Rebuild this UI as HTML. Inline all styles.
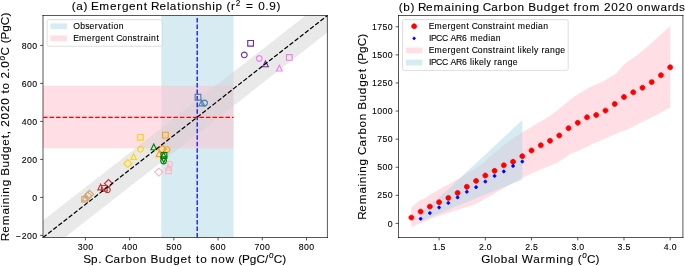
<!DOCTYPE html>
<html><head><meta charset="utf-8"><title>Emergent constraint on remaining carbon budget</title>
<style>
html,body{margin:0;padding:0;background:#fff;width:685px;height:266px;overflow:hidden;}
svg{display:block;will-change:transform;}
svg text{font-family:"Liberation Sans", sans-serif;fill:#000;stroke:#000;stroke-width:0.1px;stroke-linejoin:round;}
</style></head><body>
<svg width="685" height="266" viewBox="0 0 685 266" version="1.1">
<defs>
<style type="text/css">*{stroke-linejoin: round; stroke-linecap: butt}</style>
</defs>
<g id="figure_1">
<g id="patch_1">
<path d="M 0 266 
L 685 266 
L 685 0 
L 0 0 
z
" style="fill: #ffffff"/>
</g>
<g id="axes_1">
<g id="patch_2">
<path d="M 43 237.5 
L 327.4 237.5 
L 327.4 15.5 
L 43 15.5 
z
" style="fill: #ffffff"/>
</g>
<g id="patch_3">
<path d="M 161.323134 237.5 
L 233.528545 237.5 
L 233.528545 15.5 
L 161.323134 15.5 
z
" clip-path="url(#p31837b4e38)" style="fill: #add8e6; opacity: 0.5"/>
</g>
<g id="FillBetweenPolyCollection_1">
<defs>
<path id="m4d04b2fc5f" d="M 43 -180.13 
L 43 -117.81 
L 233.528545 -117.81 
L 233.528545 -180.13 
L 233.528545 -180.13 
L 43 -180.13 
z
"/>
</defs>
<g clip-path="url(#p31837b4e38)">
<use href="#m4d04b2fc5f" x="0" y="266" style="fill: #ffc0cb; fill-opacity: 0.5"/>
</g>
</g>
<g id="FillBetweenPolyCollection_2">
<path d="M -1.216418 255.104925 
L -1.216418 288.924925 
L 371.616418 -2.104925 
L 371.616418 -35.924925 
L 371.616418 -35.924925 
L -1.216418 255.104925 
z
" clip-path="url(#p31837b4e38)" style="fill: #d3d3d3; fill-opacity: 0.5"/>
</g>
<g id="matplotlib.axis_1">
<g id="xtick_1">
<g id="line2d_1">
<defs>
<path id="m1124e9da6d" d="M 0 0 
L 0 2.8805 
" style="stroke: #000000; stroke-width: 0.6584"/>
</defs>
<g>
<use href="#m1124e9da6d" x="85.403545" y="237.5" style="stroke: #000000; stroke-width: 0.6584"/>
</g>
</g>
<g id="text_1">
<text style="font-size: 8.748px" x="77.72 82.97 88.22" y="249.514514">300</text>
</g>
</g>
<g id="xtick_2">
<g id="line2d_2">
<g>
<use href="#m1124e9da6d" x="129.619963" y="237.5" style="stroke: #000000; stroke-width: 0.6584"/>
</g>
</g>
<g id="text_2">
<text style="font-size: 8.748px" x="121.94 127.19 132.44" y="249.514514">400</text>
</g>
</g>
<g id="xtick_3">
<g id="line2d_3">
<g>
<use href="#m1124e9da6d" x="173.836381" y="237.5" style="stroke: #000000; stroke-width: 0.6584"/>
</g>
</g>
<g id="text_3">
<text style="font-size: 8.748px" x="166.15 171.40 176.65" y="249.514514">500</text>
</g>
</g>
<g id="xtick_4">
<g id="line2d_4">
<g>
<use href="#m1124e9da6d" x="218.052799" y="237.5" style="stroke: #000000; stroke-width: 0.6584"/>
</g>
</g>
<g id="text_4">
<text style="font-size: 8.748px" x="210.37 215.62 220.87" y="249.514514">600</text>
</g>
</g>
<g id="xtick_5">
<g id="line2d_5">
<g>
<use href="#m1124e9da6d" x="262.269216" y="237.5" style="stroke: #000000; stroke-width: 0.6584"/>
</g>
</g>
<g id="text_5">
<text style="font-size: 8.748px" x="254.59 259.84 265.09" y="249.514514">700</text>
</g>
</g>
<g id="xtick_6">
<g id="line2d_6">
<g>
<use href="#m1124e9da6d" x="306.485634" y="237.5" style="stroke: #000000; stroke-width: 0.6584"/>
</g>
</g>
<g id="text_6">
<text style="font-size: 8.748px" x="298.80 304.05 309.30" y="249.514514">800</text>
</g>
</g>
<g id="text_7">
<g transform="translate(83.40313 263.505257)">
<text>
<tspan x="-0.27" y="-0.703125" style="font-size: 11.752px">S</tspan>
<tspan x="7.68" y="-0.703125" style="font-size: 11.752px">p</tspan>
<tspan x="14.79" y="-0.703125" style="font-size: 11.752px">.</tspan>
<tspan x="18.45" y="-0.703125" style="font-size: 11.752px"> </tspan>
<tspan x="21.68" y="-0.703125" style="font-size: 11.752px">C</tspan>
<tspan x="30.20" y="-0.703125" style="font-size: 11.752px">a</tspan>
<tspan x="37.39" y="-0.703125" style="font-size: 11.752px">r</tspan>
<tspan x="42.10" y="-0.703125" style="font-size: 11.752px">b</tspan>
<tspan x="49.27" y="-0.703125" style="font-size: 11.752px">o</tspan>
<tspan x="56.43" y="-0.703125" style="font-size: 11.752px">n</tspan>
<tspan x="63.54" y="-0.703125" style="font-size: 11.752px"> </tspan>
<tspan x="67.02" y="-0.703125" style="font-size: 11.752px">B</tspan>
<tspan x="75.26" y="-0.703125" style="font-size: 11.752px">u</tspan>
<tspan x="82.56" y="-0.703125" style="font-size: 11.752px">d</tspan>
<tspan x="89.85" y="-0.703125" style="font-size: 11.752px">g</tspan>
<tspan x="97.04" y="-0.703125" style="font-size: 11.752px">e</tspan>
<tspan x="104.47" y="-0.703125" style="font-size: 11.752px">t</tspan>
<tspan x="108.55" y="-0.703125" style="font-size: 11.752px"> </tspan>
<tspan x="112.63" y="-0.703125" style="font-size: 11.752px">t</tspan>
<tspan x="116.77" y="-0.703125" style="font-size: 11.752px">o</tspan>
<tspan x="123.75" y="-0.703125" style="font-size: 11.752px"> </tspan>
<tspan x="127.59" y="-0.703125" style="font-size: 11.752px">n</tspan>
<tspan x="134.75" y="-0.703125" style="font-size: 11.752px">o</tspan>
<tspan x="142.00" y="-0.703125" style="font-size: 11.752px">w</tspan>
<tspan x="151.14" y="-0.703125" style="font-size: 11.752px"> </tspan>
<tspan x="154.89" y="-0.703125" style="font-size: 11.752px">(</tspan>
<tspan x="158.63" y="-0.703125" style="font-size: 11.752px">P</tspan>
<tspan x="166.40" y="-0.703125" style="font-size: 11.752px">g</tspan>
<tspan x="173.09" y="-0.703125" style="font-size: 11.752px">C</tspan>
<tspan x="181.65" y="-0.703125" style="font-size: 11.752px">/</tspan>
<tspan x="190.36" y="-0.703125" style="font-size: 11.752px">C</tspan>
<tspan x="198.91" y="-0.703125" style="font-size: 11.752px">)</tspan>
<tspan x="185.54" y="-5.296875" style="font-size: 8.227px; font-style: italic">o</tspan>
</text>
</g>
</g>
</g>
<g id="matplotlib.axis_2">
<g id="ytick_1">
<g id="line2d_7">
<defs>
<path id="m9863b41d79" d="M 0 0 
L -2.8805 0 
" style="stroke: #000000; stroke-width: 0.6584"/>
</defs>
<g>
<use href="#m9863b41d79" x="43" y="235.4" style="stroke: #000000; stroke-width: 0.6584"/>
</g>
</g>
<g id="text_8">
<text style="font-size: 8.748px" x="15.48 21.68 26.93 32.18" y="238.526757">−200</text>
</g>
</g>
<g id="ytick_2">
<g id="line2d_8">
<g>
<use href="#m9863b41d79" x="43" y="197.4" style="stroke: #000000; stroke-width: 0.6584"/>
</g>
</g>
<g id="text_9">
<text style="font-size: 8.748px" x="32.18" y="200.526757">0</text>
</g>
</g>
<g id="ytick_3">
<g id="line2d_9">
<g>
<use href="#m9863b41d79" x="43" y="159.4" style="stroke: #000000; stroke-width: 0.6584"/>
</g>
</g>
<g id="text_10">
<text style="font-size: 8.748px" x="21.68 26.93 32.18" y="162.526757">200</text>
</g>
</g>
<g id="ytick_4">
<g id="line2d_10">
<g>
<use href="#m9863b41d79" x="43" y="121.4" style="stroke: #000000; stroke-width: 0.6584"/>
</g>
</g>
<g id="text_11">
<text style="font-size: 8.748px" x="21.68 26.93 32.18" y="124.526757">400</text>
</g>
</g>
<g id="ytick_5">
<g id="line2d_11">
<g>
<use href="#m9863b41d79" x="43" y="83.4" style="stroke: #000000; stroke-width: 0.6584"/>
</g>
</g>
<g id="text_12">
<text style="font-size: 8.748px" x="21.68 26.93 32.18" y="86.526757">600</text>
</g>
</g>
<g id="ytick_6">
<g id="line2d_12">
<g>
<use href="#m9863b41d79" x="43" y="45.4" style="stroke: #000000; stroke-width: 0.6584"/>
</g>
</g>
<g id="text_13">
<text style="font-size: 8.748px" x="21.68 26.93 32.18" y="48.526757">800</text>
</g>
</g>
<g id="text_14">
<g transform="translate(10.121885 241.02868) rotate(-90)">
<text>
<tspan x="-0.25" y="-0.703125" style="font-size: 11.752px">R</tspan>
<tspan x="8.26" y="-0.703125" style="font-size: 11.752px">e</tspan>
<tspan x="15.77" y="-0.703125" style="font-size: 11.752px">m</tspan>
<tspan x="26.52" y="-0.703125" style="font-size: 11.752px">a</tspan>
<tspan x="33.61" y="-0.703125" style="font-size: 11.752px">i</tspan>
<tspan x="36.89" y="-0.703125" style="font-size: 11.752px">n</tspan>
<tspan x="44.09" y="-0.703125" style="font-size: 11.752px">i</tspan>
<tspan x="47.37" y="-0.703125" style="font-size: 11.752px">n</tspan>
<tspan x="54.66" y="-0.703125" style="font-size: 11.752px">g</tspan>
<tspan x="61.78" y="-0.703125" style="font-size: 11.752px"> </tspan>
<tspan x="65.26" y="-0.703125" style="font-size: 11.752px">B</tspan>
<tspan x="73.50" y="-0.703125" style="font-size: 11.752px">u</tspan>
<tspan x="80.80" y="-0.703125" style="font-size: 11.752px">d</tspan>
<tspan x="88.10" y="-0.703125" style="font-size: 11.752px">g</tspan>
<tspan x="95.28" y="-0.703125" style="font-size: 11.752px">e</tspan>
<tspan x="102.71" y="-0.703125" style="font-size: 11.752px">t</tspan>
<tspan x="106.79" y="-0.703125" style="font-size: 11.752px">,</tspan>
<tspan x="110.45" y="-0.703125" style="font-size: 11.752px"> </tspan>
<tspan x="114.30" y="-0.703125" style="font-size: 11.752px">2</tspan>
<tspan x="121.62" y="-0.703125" style="font-size: 11.752px">0</tspan>
<tspan x="128.93" y="-0.703125" style="font-size: 11.752px">2</tspan>
<tspan x="136.25" y="-0.703125" style="font-size: 11.752px">0</tspan>
<tspan x="143.37" y="-0.703125" style="font-size: 11.752px"> </tspan>
<tspan x="147.45" y="-0.703125" style="font-size: 11.752px">t</tspan>
<tspan x="151.59" y="-0.703125" style="font-size: 11.752px">o</tspan>
<tspan x="158.57" y="-0.703125" style="font-size: 11.752px"> </tspan>
<tspan x="162.42" y="-0.703125" style="font-size: 11.752px">2</tspan>
<tspan x="169.55" y="-0.703125" style="font-size: 11.752px">.</tspan>
<tspan x="173.40" y="-0.703125" style="font-size: 11.752px">0</tspan>
<tspan x="185.46" y="-0.703125" style="font-size: 11.752px">C</tspan>
<tspan x="193.92" y="-0.703125" style="font-size: 11.752px"> </tspan>
<tspan x="197.66" y="-0.703125" style="font-size: 11.752px">(</tspan>
<tspan x="201.41" y="-0.703125" style="font-size: 11.752px">P</tspan>
<tspan x="209.18" y="-0.703125" style="font-size: 11.752px">g</tspan>
<tspan x="215.87" y="-0.703125" style="font-size: 11.752px">C</tspan>
<tspan x="224.41" y="-0.703125" style="font-size: 11.752px">)</tspan>
<tspan x="180.63" y="-5.296875" style="font-size: 8.227px; font-style: italic">o</tspan>
</text>
</g>
</g>
</g>
<g id="patch_4">
<path d="M 43 237.5 
L 43 15.5 
" style="fill: none; stroke: #000000; stroke-width: 0.6584; stroke-linejoin: miter; stroke-linecap: square"/>
</g>
<g id="patch_5">
<path d="M 327.4 237.5 
L 327.4 15.5 
" style="fill: none; stroke: #000000; stroke-width: 0.6584; stroke-linejoin: miter; stroke-linecap: square"/>
</g>
<g id="patch_6">
<path d="M 43 237.5 
L 327.4 237.5 
" style="fill: none; stroke: #000000; stroke-width: 0.6584; stroke-linejoin: miter; stroke-linecap: square"/>
</g>
<g id="patch_7">
<path d="M 43 15.5 
L 327.4 15.5 
" style="fill: none; stroke: #000000; stroke-width: 0.6584; stroke-linejoin: miter; stroke-linecap: square"/>
</g>
<g id="line2d_13">
<path d="M 197.182649 237.5 
L 197.182649 15.5 
" clip-path="url(#p31837b4e38)" style="fill: none; stroke-dasharray: 4.54952,1.96736; stroke-dashoffset: 0; stroke: #0000ff; stroke-width: 1.2296"/>
</g>
<g id="line2d_14">
<path d="M 43 117.41 
L 233.528545 117.41 
" clip-path="url(#p31837b4e38)" style="fill: none; stroke-dasharray: 4.54952,1.96736; stroke-dashoffset: 0; stroke: #ff0000; stroke-width: 1.2296"/>
</g>
<g id="text_15">
<g transform="translate(71.56502 10.562)">
<text>
<tspan x="0.29" y="-0.171875" style="font-size: 11.752px">(</tspan>
<tspan x="4.74" y="-0.171875" style="font-size: 11.752px">a</tspan>
<tspan x="11.82" y="-0.171875" style="font-size: 11.752px">)</tspan>
<tspan x="16.22" y="-0.171875" style="font-size: 11.752px"> </tspan>
<tspan x="19.39" y="-0.171875" style="font-size: 11.752px">E</tspan>
<tspan x="27.65" y="-0.171875" style="font-size: 11.752px">m</tspan>
<tspan x="38.41" y="-0.171875" style="font-size: 11.752px">e</tspan>
<tspan x="45.63" y="-0.171875" style="font-size: 11.752px">r</tspan>
<tspan x="50.33" y="-0.171875" style="font-size: 11.752px">g</tspan>
<tspan x="57.52" y="-0.171875" style="font-size: 11.752px">e</tspan>
<tspan x="64.70" y="-0.171875" style="font-size: 11.752px">n</tspan>
<tspan x="72.23" y="-0.171875" style="font-size: 11.752px">t</tspan>
<tspan x="76.32" y="-0.171875" style="font-size: 11.752px"> </tspan>
<tspan x="79.53" y="-0.171875" style="font-size: 11.752px">R</tspan>
<tspan x="88.04" y="-0.171875" style="font-size: 11.752px">e</tspan>
<tspan x="95.13" y="-0.171875" style="font-size: 11.752px">l</tspan>
<tspan x="98.29" y="-0.171875" style="font-size: 11.752px">a</tspan>
<tspan x="105.71" y="-0.171875" style="font-size: 11.752px">t</tspan>
<tspan x="109.88" y="-0.171875" style="font-size: 11.752px">i</tspan>
<tspan x="113.04" y="-0.171875" style="font-size: 11.752px">o</tspan>
<tspan x="120.20" y="-0.171875" style="font-size: 11.752px">n</tspan>
<tspan x="127.17" y="-0.171875" style="font-size: 11.752px">s</tspan>
<tspan x="133.48" y="-0.171875" style="font-size: 11.752px">h</tspan>
<tspan x="140.68" y="-0.171875" style="font-size: 11.752px">i</tspan>
<tspan x="143.97" y="-0.171875" style="font-size: 11.752px">p</tspan>
<tspan x="151.08" y="-0.171875" style="font-size: 11.752px"> </tspan>
<tspan x="154.83" y="-0.171875" style="font-size: 11.752px">(</tspan>
<tspan x="159.44" y="-0.171875" style="font-size: 11.752px">r</tspan>
<tspan x="169.52" y="-0.171875" style="font-size: 11.752px"> </tspan>
<tspan x="174.36" y="-0.171875" style="font-size: 11.752px">=</tspan>
<tspan x="182.81" y="-0.171875" style="font-size: 11.752px"> </tspan>
<tspan x="186.66" y="-0.171875" style="font-size: 11.752px">0</tspan>
<tspan x="193.78" y="-0.171875" style="font-size: 11.752px">.</tspan>
<tspan x="197.63" y="-0.171875" style="font-size: 11.752px">9</tspan>
<tspan x="204.84" y="-0.171875" style="font-size: 11.752px">)</tspan>
<tspan x="164.17" y="-4.765625" style="font-size: 8.227px">2</tspan>
</text>
</g>
</g>
<g id="line2d_15">
<defs>
<path id="m925cb72430" d="M -2.85 2.85 
L 2.85 2.85 
L 2.85 -2.85 
L -2.85 -2.85 
z
" style="stroke: #7030a0; stroke-width: 1.15; stroke-linejoin: miter"/>
</defs>
<g clip-path="url(#p31837b4e38)">
<use href="#m925cb72430" x="250.6" y="43.3" style="fill-opacity: 0; stroke: #7030a0; stroke-width: 1.15; stroke-linejoin: miter"/>
</g>
</g>
<g id="line2d_16">
<defs>
<path id="mf0a431c4da" d="M 0 2.85 
C 0.755829 2.85 1.480803 2.549706 2.015254 2.015254 
C 2.549706 1.480803 2.85 0.755829 2.85 0 
C 2.85 -0.755829 2.549706 -1.480803 2.015254 -2.015254 
C 1.480803 -2.549706 0.755829 -2.85 0 -2.85 
C -0.755829 -2.85 -1.480803 -2.549706 -2.015254 -2.015254 
C -2.549706 -1.480803 -2.85 -0.755829 -2.85 0 
C -2.85 0.755829 -2.549706 1.480803 -2.015254 2.015254 
C -1.480803 2.549706 -0.755829 2.85 0 2.85 
z
" style="stroke: #7030a0; stroke-width: 1.15"/>
</defs>
<g clip-path="url(#p31837b4e38)">
<use href="#mf0a431c4da" x="244.3" y="54.9" style="fill-opacity: 0; stroke: #7030a0; stroke-width: 1.15"/>
</g>
</g>
<g id="line2d_17">
<defs>
<path id="me7ec611234" d="M 0 -2.85 
L -2.85 2.85 
L 2.85 2.85 
z
" style="stroke: #7030a0; stroke-width: 1.15; stroke-linejoin: miter"/>
</defs>
<g clip-path="url(#p31837b4e38)">
<use href="#me7ec611234" x="265.5" y="63.9" style="fill-opacity: 0; stroke: #7030a0; stroke-width: 1.15; stroke-linejoin: miter"/>
</g>
</g>
<g id="line2d_18">
<defs>
<path id="m80af6cdeb4" d="M 0 2.85 
C 0.755829 2.85 1.480803 2.549706 2.015254 2.015254 
C 2.549706 1.480803 2.85 0.755829 2.85 0 
C 2.85 -0.755829 2.549706 -1.480803 2.015254 -2.015254 
C 1.480803 -2.549706 0.755829 -2.85 0 -2.85 
C -0.755829 -2.85 -1.480803 -2.549706 -2.015254 -2.015254 
C -2.549706 -1.480803 -2.85 -0.755829 -2.85 0 
C -2.85 0.755829 -2.549706 1.480803 -2.015254 2.015254 
C -1.480803 2.549706 -0.755829 2.85 0 2.85 
z
" style="stroke: #ee82ee; stroke-width: 1.15"/>
</defs>
<g clip-path="url(#p31837b4e38)">
<use href="#m80af6cdeb4" x="259.3" y="58.5" style="fill-opacity: 0; stroke: #ee82ee; stroke-width: 1.15"/>
</g>
</g>
<g id="line2d_19">
<defs>
<path id="mf76efccdf4" d="M -2.85 2.85 
L 2.85 2.85 
L 2.85 -2.85 
L -2.85 -2.85 
z
" style="stroke: #ee82ee; stroke-width: 1.15; stroke-linejoin: miter"/>
</defs>
<g clip-path="url(#p31837b4e38)">
<use href="#mf76efccdf4" x="289.3" y="57.4" style="fill-opacity: 0; stroke: #ee82ee; stroke-width: 1.15; stroke-linejoin: miter"/>
</g>
</g>
<g id="line2d_20">
<defs>
<path id="med8cbd053f" d="M 0 -2.85 
L -2.85 2.85 
L 2.85 2.85 
z
" style="stroke: #ee82ee; stroke-width: 1.15; stroke-linejoin: miter"/>
</defs>
<g clip-path="url(#p31837b4e38)">
<use href="#med8cbd053f" x="279.3" y="68.1" style="fill-opacity: 0; stroke: #ee82ee; stroke-width: 1.15; stroke-linejoin: miter"/>
</g>
</g>
<g id="line2d_21">
<defs>
<path id="ma34331894e" d="M -2.85 2.85 
L 2.85 2.85 
L 2.85 -2.85 
L -2.85 -2.85 
z
" style="stroke: #4682b4; stroke-width: 1.15; stroke-linejoin: miter"/>
</defs>
<g clip-path="url(#p31837b4e38)">
<use href="#ma34331894e" x="198" y="97.2" style="fill-opacity: 0; stroke: #4682b4; stroke-width: 1.15; stroke-linejoin: miter"/>
</g>
</g>
<g id="line2d_22">
<defs>
<path id="m9b8bef69ea" d="M 0 -2.85 
L -2.85 2.85 
L 2.85 2.85 
z
" style="stroke: #4682b4; stroke-width: 1.15; stroke-linejoin: miter"/>
</defs>
<g clip-path="url(#p31837b4e38)">
<use href="#m9b8bef69ea" x="201.7" y="103" style="fill-opacity: 0; stroke: #4682b4; stroke-width: 1.15; stroke-linejoin: miter"/>
</g>
</g>
<g id="line2d_23">
<defs>
<path id="m6b0c754efd" d="M 0 2.85 
C 0.755829 2.85 1.480803 2.549706 2.015254 2.015254 
C 2.549706 1.480803 2.85 0.755829 2.85 0 
C 2.85 -0.755829 2.549706 -1.480803 2.015254 -2.015254 
C 1.480803 -2.549706 0.755829 -2.85 0 -2.85 
C -0.755829 -2.85 -1.480803 -2.549706 -2.015254 -2.015254 
C -2.549706 -1.480803 -2.85 -0.755829 -2.85 0 
C -2.85 0.755829 -2.549706 1.480803 -2.015254 2.015254 
C -1.480803 2.549706 -0.755829 2.85 0 2.85 
z
" style="stroke: #4682b4; stroke-width: 1.15"/>
</defs>
<g clip-path="url(#p31837b4e38)">
<use href="#m6b0c754efd" x="204.6" y="103" style="fill-opacity: 0; stroke: #4682b4; stroke-width: 1.15"/>
</g>
</g>
<g id="line2d_24">
<defs>
<path id="m85256521fd" d="M -2.85 2.85 
L 2.85 2.85 
L 2.85 -2.85 
L -2.85 -2.85 
z
" style="stroke: #ffa500; stroke-width: 1.15; stroke-linejoin: miter"/>
</defs>
<g clip-path="url(#p31837b4e38)">
<use href="#m85256521fd" x="165.4" y="135.1" style="fill-opacity: 0; stroke: #ffa500; stroke-width: 1.15; stroke-linejoin: miter"/>
</g>
</g>
<g id="line2d_25">
<defs>
<path id="m253c070759" d="M 0 2.85 
C 0.755829 2.85 1.480803 2.549706 2.015254 2.015254 
C 2.549706 1.480803 2.85 0.755829 2.85 0 
C 2.85 -0.755829 2.549706 -1.480803 2.015254 -2.015254 
C 1.480803 -2.549706 0.755829 -2.85 0 -2.85 
C -0.755829 -2.85 -1.480803 -2.549706 -2.015254 -2.015254 
C -2.549706 -1.480803 -2.85 -0.755829 -2.85 0 
C -2.85 0.755829 -2.549706 1.480803 -2.015254 2.015254 
C -1.480803 2.549706 -0.755829 2.85 0 2.85 
z
" style="stroke: #ffa500; stroke-width: 1.15"/>
</defs>
<g clip-path="url(#p31837b4e38)">
<use href="#m253c070759" x="167" y="149.6" style="fill-opacity: 0; stroke: #ffa500; stroke-width: 1.15"/>
</g>
</g>
<g id="line2d_26">
<defs>
<path id="ma3f1161def" d="M -0 4.030509 
L 4.030509 0 
L -0 -4.030509 
L -4.030509 0 
z
" style="stroke: #ffa500; stroke-width: 1.15; stroke-linejoin: miter"/>
</defs>
<g clip-path="url(#p31837b4e38)">
<use href="#ma3f1161def" x="162.3" y="149" style="fill-opacity: 0; stroke: #ffa500; stroke-width: 1.15; stroke-linejoin: miter"/>
</g>
</g>
<g id="line2d_27">
<defs>
<path id="mbcfd8f69a3" d="M 0 -2.85 
L -2.85 2.85 
L 2.85 2.85 
z
" style="stroke: #ffa500; stroke-width: 1.15; stroke-linejoin: miter"/>
</defs>
<g clip-path="url(#p31837b4e38)">
<use href="#mbcfd8f69a3" x="159" y="153.7" style="fill-opacity: 0; stroke: #ffa500; stroke-width: 1.15; stroke-linejoin: miter"/>
</g>
</g>
<g id="line2d_28">
<defs>
<path id="m32bf156980" d="M -2.85 2.85 
L 2.85 2.85 
L 2.85 -2.85 
L -2.85 -2.85 
z
" style="stroke: #ffd700; stroke-width: 1.15; stroke-linejoin: miter"/>
</defs>
<g clip-path="url(#p31837b4e38)">
<use href="#m32bf156980" x="140.5" y="137.3" style="fill-opacity: 0; stroke: #ffd700; stroke-width: 1.15; stroke-linejoin: miter"/>
</g>
</g>
<g id="line2d_29">
<defs>
<path id="m4f36b8bc59" d="M 0 2.85 
C 0.755829 2.85 1.480803 2.549706 2.015254 2.015254 
C 2.549706 1.480803 2.85 0.755829 2.85 0 
C 2.85 -0.755829 2.549706 -1.480803 2.015254 -2.015254 
C 1.480803 -2.549706 0.755829 -2.85 0 -2.85 
C -0.755829 -2.85 -1.480803 -2.549706 -2.015254 -2.015254 
C -2.549706 -1.480803 -2.85 -0.755829 -2.85 0 
C -2.85 0.755829 -2.549706 1.480803 -2.015254 2.015254 
C -1.480803 2.549706 -0.755829 2.85 0 2.85 
z
" style="stroke: #ffd700; stroke-width: 1.15"/>
</defs>
<g clip-path="url(#p31837b4e38)">
<use href="#m4f36b8bc59" x="140.5" y="149.2" style="fill-opacity: 0; stroke: #ffd700; stroke-width: 1.15"/>
</g>
</g>
<g id="line2d_30">
<defs>
<path id="mb8ace965bf" d="M 0 -2.85 
L -2.85 2.85 
L 2.85 2.85 
z
" style="stroke: #ffd700; stroke-width: 1.15; stroke-linejoin: miter"/>
</defs>
<g clip-path="url(#p31837b4e38)">
<use href="#mb8ace965bf" x="133.6" y="156.6" style="fill-opacity: 0; stroke: #ffd700; stroke-width: 1.15; stroke-linejoin: miter"/>
</g>
</g>
<g id="line2d_31">
<defs>
<path id="m40c10b3c50" d="M -0 4.030509 
L 4.030509 0 
L -0 -4.030509 
L -4.030509 0 
z
" style="stroke: #ffd700; stroke-width: 1.15; stroke-linejoin: miter"/>
</defs>
<g clip-path="url(#p31837b4e38)">
<use href="#m40c10b3c50" x="127.8" y="163.5" style="fill-opacity: 0; stroke: #ffd700; stroke-width: 1.15; stroke-linejoin: miter"/>
</g>
</g>
<g id="line2d_32">
<defs>
<path id="mc80c22f577" d="M 0 -2.85 
L -2.85 2.85 
L 2.85 2.85 
z
" style="stroke: #008000; stroke-width: 1.15; stroke-linejoin: miter"/>
</defs>
<g clip-path="url(#p31837b4e38)">
<use href="#mc80c22f577" x="153.8" y="146.9" style="fill-opacity: 0; stroke: #008000; stroke-width: 1.15; stroke-linejoin: miter"/>
</g>
</g>
<g id="line2d_33">
<g clip-path="url(#p31837b4e38)">
<use href="#mc80c22f577" x="163.6" y="155.2" style="fill-opacity: 0; stroke: #008000; stroke-width: 1.15; stroke-linejoin: miter"/>
</g>
</g>
<g id="line2d_34">
<defs>
<path id="m4dcc32dc29" d="M -2.85 2.85 
L 2.85 2.85 
L 2.85 -2.85 
L -2.85 -2.85 
z
" style="stroke: #008000; stroke-width: 1.15; stroke-linejoin: miter"/>
</defs>
<g clip-path="url(#p31837b4e38)">
<use href="#m4dcc32dc29" x="164" y="155.4" style="fill-opacity: 0; stroke: #008000; stroke-width: 1.15; stroke-linejoin: miter"/>
</g>
</g>
<g id="line2d_35">
<defs>
<path id="m9b1743d352" d="M 0 2.85 
C 0.755829 2.85 1.480803 2.549706 2.015254 2.015254 
C 2.549706 1.480803 2.85 0.755829 2.85 0 
C 2.85 -0.755829 2.549706 -1.480803 2.015254 -2.015254 
C 1.480803 -2.549706 0.755829 -2.85 0 -2.85 
C -0.755829 -2.85 -1.480803 -2.549706 -2.015254 -2.015254 
C -2.549706 -1.480803 -2.85 -0.755829 -2.85 0 
C -2.85 0.755829 -2.549706 1.480803 -2.015254 2.015254 
C -1.480803 2.549706 -0.755829 2.85 0 2.85 
z
" style="stroke: #008000; stroke-width: 1.15"/>
</defs>
<g clip-path="url(#p31837b4e38)">
<use href="#m9b1743d352" x="163.6" y="161" style="fill-opacity: 0; stroke: #008000; stroke-width: 1.15"/>
</g>
</g>
<g id="line2d_36">
<defs>
<path id="macad1180b0" d="M -0 2.85 
L 2.85 -2.85 
L -2.85 -2.85 
z
" style="stroke: #008000; stroke-width: 1.15; stroke-linejoin: miter"/>
</defs>
<g clip-path="url(#p31837b4e38)">
<use href="#macad1180b0" x="163.8" y="159.6" style="fill-opacity: 0; stroke: #008000; stroke-width: 1.15; stroke-linejoin: miter"/>
</g>
</g>
<g id="line2d_37">
<defs>
<path id="md51a66863c" d="M 0 2.85 
C 0.755829 2.85 1.480803 2.549706 2.015254 2.015254 
C 2.549706 1.480803 2.85 0.755829 2.85 0 
C 2.85 -0.755829 2.549706 -1.480803 2.015254 -2.015254 
C 1.480803 -2.549706 0.755829 -2.85 0 -2.85 
C -0.755829 -2.85 -1.480803 -2.549706 -2.015254 -2.015254 
C -2.549706 -1.480803 -2.85 -0.755829 -2.85 0 
C -2.85 0.755829 -2.549706 1.480803 -2.015254 2.015254 
C -1.480803 2.549706 -0.755829 2.85 0 2.85 
z
" style="stroke: #ffb6c1; stroke-width: 1.15"/>
</defs>
<g clip-path="url(#p31837b4e38)">
<use href="#md51a66863c" x="169.6" y="164.1" style="fill-opacity: 0; stroke: #ffb6c1; stroke-width: 1.15"/>
</g>
</g>
<g id="line2d_38">
<defs>
<path id="ma14756612c" d="M 0 -2.85 
L -2.85 2.85 
L 2.85 2.85 
z
" style="stroke: #ffb6c1; stroke-width: 1.15; stroke-linejoin: miter"/>
</defs>
<g clip-path="url(#p31837b4e38)">
<use href="#ma14756612c" x="168.6" y="167.4" style="fill-opacity: 0; stroke: #ffb6c1; stroke-width: 1.15; stroke-linejoin: miter"/>
</g>
</g>
<g id="line2d_39">
<defs>
<path id="m4196131d28" d="M -2.85 2.85 
L 2.85 2.85 
L 2.85 -2.85 
L -2.85 -2.85 
z
" style="stroke: #ffb6c1; stroke-width: 1.15; stroke-linejoin: miter"/>
</defs>
<g clip-path="url(#p31837b4e38)">
<use href="#m4196131d28" x="168.6" y="170.7" style="fill-opacity: 0; stroke: #ffb6c1; stroke-width: 1.15; stroke-linejoin: miter"/>
</g>
</g>
<g id="line2d_40">
<defs>
<path id="m0179267209" d="M -0 4.030509 
L 4.030509 0 
L -0 -4.030509 
L -4.030509 0 
z
" style="stroke: #ffb6c1; stroke-width: 1.15; stroke-linejoin: miter"/>
</defs>
<g clip-path="url(#p31837b4e38)">
<use href="#m0179267209" x="158.8" y="172.1" style="fill-opacity: 0; stroke: #ffb6c1; stroke-width: 1.15; stroke-linejoin: miter"/>
</g>
</g>
<g id="line2d_41">
<defs>
<path id="mc801fa1297" d="M 0 -2.85 
L -2.85 2.85 
L 2.85 2.85 
z
" style="stroke: #b83a3a; stroke-width: 1.15; stroke-linejoin: miter"/>
</defs>
<g clip-path="url(#p31837b4e38)">
<use href="#mc801fa1297" x="100.6" y="187" style="fill-opacity: 0; stroke: #b83a3a; stroke-width: 1.15; stroke-linejoin: miter"/>
</g>
</g>
<g id="line2d_42">
<defs>
<path id="m0263854fa2" d="M -0 4.030509 
L 4.030509 0 
L -0 -4.030509 
L -4.030509 0 
z
" style="stroke: #b83a3a; stroke-width: 1.15; stroke-linejoin: miter"/>
</defs>
<g clip-path="url(#p31837b4e38)">
<use href="#m0263854fa2" x="108.5" y="183.5" style="fill-opacity: 0; stroke: #b83a3a; stroke-width: 1.15; stroke-linejoin: miter"/>
</g>
</g>
<g id="line2d_43">
<defs>
<path id="m23f6e6ce17" d="M 0 2.85 
C 0.755829 2.85 1.480803 2.549706 2.015254 2.015254 
C 2.549706 1.480803 2.85 0.755829 2.85 0 
C 2.85 -0.755829 2.549706 -1.480803 2.015254 -2.015254 
C 1.480803 -2.549706 0.755829 -2.85 0 -2.85 
C -0.755829 -2.85 -1.480803 -2.549706 -2.015254 -2.015254 
C -2.549706 -1.480803 -2.85 -0.755829 -2.85 0 
C -2.85 0.755829 -2.549706 1.480803 -2.015254 2.015254 
C -1.480803 2.549706 -0.755829 2.85 0 2.85 
z
" style="stroke: #b83a3a; stroke-width: 1.15"/>
</defs>
<g clip-path="url(#p31837b4e38)">
<use href="#m23f6e6ce17" x="107.4" y="189.8" style="fill-opacity: 0; stroke: #b83a3a; stroke-width: 1.15"/>
</g>
</g>
<g id="line2d_44">
<defs>
<path id="m6255738ca9" d="M -2.85 2.85 
L 2.85 2.85 
L 2.85 -2.85 
L -2.85 -2.85 
z
" style="stroke: #b83a3a; stroke-width: 1.15; stroke-linejoin: miter"/>
</defs>
<g clip-path="url(#p31837b4e38)">
<use href="#m6255738ca9" x="104.3" y="188.3" style="fill-opacity: 0; stroke: #b83a3a; stroke-width: 1.15; stroke-linejoin: miter"/>
</g>
</g>
<g id="line2d_45">
<defs>
<path id="mf8f67b8d2c" d="M -0 4.030509 
L 4.030509 0 
L -0 -4.030509 
L -4.030509 0 
z
" style="stroke: #d2a877; stroke-width: 1.15; stroke-linejoin: miter"/>
</defs>
<g clip-path="url(#p31837b4e38)">
<use href="#mf8f67b8d2c" x="89.5" y="194.3" style="fill-opacity: 0; stroke: #d2a877; stroke-width: 1.15; stroke-linejoin: miter"/>
</g>
</g>
<g id="line2d_46">
<g clip-path="url(#p31837b4e38)">
<use href="#mf8f67b8d2c" x="87.8" y="196" style="fill-opacity: 0; stroke: #d2a877; stroke-width: 1.15; stroke-linejoin: miter"/>
</g>
</g>
<g id="line2d_47">
<defs>
<path id="m98ea2050d2" d="M -2.85 2.85 
L 2.85 2.85 
L 2.85 -2.85 
L -2.85 -2.85 
z
" style="stroke: #d2a877; stroke-width: 1.15; stroke-linejoin: miter"/>
</defs>
<g clip-path="url(#p31837b4e38)">
<use href="#m98ea2050d2" x="84.6" y="199.4" style="fill-opacity: 0; stroke: #d2a877; stroke-width: 1.15; stroke-linejoin: miter"/>
</g>
</g>
<g id="line2d_48">
<defs>
<path id="ma67a10f94b" d="M 0 -2.85 
L -2.85 2.85 
L 2.85 2.85 
z
" style="stroke: #d2a877; stroke-width: 1.15; stroke-linejoin: miter"/>
</defs>
<g clip-path="url(#p31837b4e38)">
<use href="#ma67a10f94b" x="85.2" y="198" style="fill-opacity: 0; stroke: #d2a877; stroke-width: 1.15; stroke-linejoin: miter"/>
</g>
</g>
<g id="line2d_49">
<path d="M 43 237.5 
L 327.4 15.5 
" clip-path="url(#p31837b4e38)" style="fill: none; stroke-dasharray: 4.54952,1.96736; stroke-dashoffset: 0; stroke: #000000; stroke-width: 1.2296"/>
</g>
<g id="legend_1">
<g id="patch_8">
<path d="M 48.761 46.244194 
L 160.631133 46.244194 
Q 162.277133 46.244194 162.277133 44.598194 
L 162.277133 21.261 
Q 162.277133 19.615 160.631133 19.615 
L 48.761 19.615 
Q 47.115 19.615 47.115 21.261 
L 47.115 44.598194 
Q 47.115 46.244194 48.761 46.244194 
z
" style="fill: #ffffff; opacity: 0.8; stroke: #cccccc; stroke-width: 0.823; stroke-linejoin: miter"/>
</g>
<g id="patch_9">
<path d="M 50.407 29.160514 
L 66.867 29.160514 
L 66.867 23.399514 
L 50.407 23.399514 
z
" style="fill: #add8e6; opacity: 0.5"/>
</g>
<g id="text_16">
<text style="font-size: 8.642px" x="73.34 80.16 85.17 89.61 94.81 98.23 102.95 108.30 111.31 113.53 118.67" y="29.160514">Observation</text>
</g>
<g id="patch_10">
<path d="M 50.407 41.240611 
L 66.867 41.240611 
L 66.867 35.479611 
L 50.407 35.479611 
z
" style="fill: #ffc0cb; opacity: 0.5"/>
</g>
<g id="text_17">
<text style="font-size: 8.642px" x="73.18 79.08 86.83 92.03 95.26 100.41 105.57 111.00 113.93 116.20 122.32 127.46 132.47 137.19 140.27 143.53 148.64 150.96 156.40" y="41.240611">Emergent Constraint</text>
</g>
</g>
</g>
<g id="axes_2">
<g id="patch_11">
<path d="M 398.5 237.5 
L 682.9 237.5 
L 682.9 15.5 
L 398.5 15.5 
z
" style="fill: #ffffff"/>
</g>
<g id="FillBetweenPolyCollection_3">
<defs>
<path id="m7a9fd5055f" d="M 411.368 -58.497525 
L 411.368 -39.0048 
L 412.2924 -39.3895 
L 413.2168 -39.774201 
L 414.1412 -40.158901 
L 415.0656 -40.543602 
L 415.99 -40.928302 
L 416.9144 -41.313002 
L 417.8388 -41.697703 
L 418.7632 -42.082403 
L 419.6876 -42.467104 
L 420.612 -42.851804 
L 421.5364 -43.236504 
L 422.4608 -43.621205 
L 423.3852 -44.005905 
L 424.3096 -44.390605 
L 425.234 -44.775306 
L 426.1584 -45.160006 
L 427.0828 -45.544707 
L 428.0072 -45.929407 
L 428.9316 -46.314107 
L 429.856 -46.698808 
L 430.7804 -47.083508 
L 431.7048 -47.468209 
L 432.6292 -47.852909 
L 433.5536 -48.237609 
L 434.478 -48.62231 
L 435.4024 -48.980338 
L 436.3268 -49.276133 
L 437.2512 -49.571927 
L 438.1756 -49.867722 
L 439.1 -50.163516 
L 440.0244 -50.459311 
L 440.9488 -50.755105 
L 441.8732 -51.0509 
L 442.7976 -51.346694 
L 443.722 -51.642488 
L 444.6464 -51.938283 
L 445.5708 -52.234077 
L 446.4952 -52.529872 
L 447.4196 -52.825666 
L 448.344 -53.121461 
L 449.2684 -53.417255 
L 450.1928 -53.71305 
L 451.1172 -54.008844 
L 452.0416 -54.304639 
L 452.966 -54.600433 
L 453.8904 -54.896227 
L 454.8148 -55.192022 
L 455.7392 -55.487816 
L 456.6636 -55.783611 
L 457.588 -56.079405 
L 458.5124 -56.3752 
L 459.4368 -56.670994 
L 460.3612 -56.966789 
L 461.2856 -57.262583 
L 462.21 -57.558378 
L 463.1344 -57.854172 
L 464.0588 -58.149967 
L 464.9832 -58.445761 
L 465.9076 -58.741555 
L 466.832 -59.03735 
L 467.7564 -59.333144 
L 468.6808 -59.628939 
L 469.6052 -59.924733 
L 470.5296 -60.220528 
L 471.454 -60.516322 
L 472.3784 -60.812117 
L 473.3028 -61.107911 
L 474.2272 -61.403706 
L 475.1516 -61.6995 
L 476.076 -62.219229 
L 477.0004 -62.738959 
L 477.9248 -63.258688 
L 478.8492 -63.778417 
L 479.7736 -64.298147 
L 480.698 -64.817876 
L 481.6224 -65.337605 
L 482.5468 -65.857335 
L 483.4712 -66.377064 
L 484.3956 -66.896793 
L 485.32 -67.416523 
L 486.2444 -67.936252 
L 487.1688 -68.455981 
L 488.0932 -68.975711 
L 489.0176 -69.49544 
L 489.942 -70.015169 
L 490.8664 -70.534899 
L 491.7908 -71.054628 
L 492.7152 -71.574357 
L 493.6396 -72.094087 
L 494.564 -72.613816 
L 495.4884 -73.133545 
L 496.4128 -73.653275 
L 497.3372 -74.173004 
L 498.2616 -74.692733 
L 499.186 -75.212463 
L 500.1104 -75.732192 
L 501.0348 -76.251921 
L 501.9592 -76.771651 
L 502.8836 -77.29138 
L 503.808 -77.811109 
L 504.7324 -78.330839 
L 505.6568 -78.850568 
L 506.5812 -79.370297 
L 507.5056 -79.890027 
L 508.43 -80.409756 
L 509.3544 -80.929485 
L 510.2788 -81.449215 
L 511.2032 -81.968944 
L 512.1276 -82.488673 
L 513.052 -83.008403 
L 513.9764 -83.528132 
L 514.9008 -84.047861 
L 515.8252 -84.567591 
L 516.7496 -85.08732 
L 517.674 -85.607049 
L 518.5984 -86.126779 
L 519.5228 -86.646508 
L 520.4472 -87.166237 
L 521.3716 -87.685967 
L 522.296 -88.187432 
L 523.2204 -88.615844 
L 524.1448 -89.044255 
L 525.0692 -89.472667 
L 525.9936 -89.901078 
L 526.918 -90.32949 
L 527.8424 -90.757902 
L 528.7668 -91.186313 
L 529.6912 -91.614725 
L 530.6156 -92.043136 
L 531.54 -92.471548 
L 532.4644 -92.899959 
L 533.3888 -93.328371 
L 534.3132 -93.756782 
L 535.2376 -94.185194 
L 536.162 -94.613605 
L 537.0864 -95.042017 
L 538.0108 -95.470428 
L 538.9352 -95.89884 
L 539.8596 -96.267437 
L 540.784 -96.636033 
L 541.7084 -97.00463 
L 542.6328 -97.373226 
L 543.5572 -97.741823 
L 544.4816 -98.110419 
L 545.406 -98.479016 
L 546.3304 -98.847612 
L 547.2548 -99.216209 
L 548.1792 -99.584806 
L 549.1036 -99.953402 
L 550.028 -100.321999 
L 550.9524 -100.690595 
L 551.8768 -101.059192 
L 552.8012 -101.427788 
L 553.7256 -101.796385 
L 554.65 -102.164981 
L 555.5744 -102.533578 
L 556.4988 -102.902174 
L 557.4232 -103.270771 
L 558.3476 -103.820779 
L 559.272 -104.448535 
L 560.1964 -105.07629 
L 561.1208 -105.704046 
L 562.0452 -106.331801 
L 562.9696 -106.959557 
L 563.894 -107.587313 
L 564.8184 -108.215068 
L 565.7428 -108.856332 
L 566.6672 -109.503385 
L 567.5916 -110.150437 
L 568.516 -110.79749 
L 569.4404 -111.444543 
L 570.3648 -112.003306 
L 571.2892 -112.356061 
L 572.2136 -112.708816 
L 573.138 -113.061571 
L 574.0624 -113.414326 
L 574.9868 -113.767081 
L 575.9112 -114.119835 
L 576.8356 -114.47259 
L 577.76 -114.825345 
L 578.6844 -115.1781 
L 579.6088 -115.642021 
L 580.5332 -116.105943 
L 581.4576 -116.569864 
L 582.382 -117.033786 
L 583.3064 -117.497707 
L 584.2308 -117.961629 
L 585.1552 -118.42555 
L 586.0796 -118.889471 
L 587.004 -119.353393 
L 587.9284 -119.817314 
L 588.8528 -120.281236 
L 589.7772 -120.745157 
L 590.7016 -121.209079 
L 591.626 -121.673 
L 592.5504 -122.112942 
L 593.4748 -122.496933 
L 594.3992 -122.880924 
L 595.3236 -123.264914 
L 596.248 -123.648905 
L 597.1724 -124.032896 
L 598.0968 -124.416887 
L 599.0212 -124.800878 
L 599.9456 -125.184868 
L 600.87 -125.568859 
L 601.7944 -125.95285 
L 602.7188 -126.336841 
L 603.6432 -126.720831 
L 604.5676 -127.104822 
L 605.492 -127.488813 
L 606.4164 -127.89728 
L 607.3408 -128.316237 
L 608.2652 -128.735193 
L 609.1896 -129.15415 
L 610.114 -129.573107 
L 611.0384 -129.992064 
L 611.9628 -130.41102 
L 612.8872 -130.829977 
L 613.8116 -131.248934 
L 614.736 -131.667891 
L 615.6604 -132.086847 
L 616.5848 -132.505804 
L 617.5092 -132.924761 
L 618.4336 -133.343718 
L 619.358 -133.762675 
L 620.2824 -134.148908 
L 621.2068 -134.404249 
L 622.1312 -134.65959 
L 623.0556 -134.914931 
L 623.98 -135.170272 
L 624.9044 -135.425613 
L 625.8288 -135.82259 
L 626.7532 -136.280268 
L 627.6776 -136.737947 
L 628.602 -137.195625 
L 629.5264 -137.653304 
L 630.4508 -138.110982 
L 631.3752 -138.56866 
L 632.2996 -139.026339 
L 633.224 -139.484017 
L 634.1484 -139.941696 
L 635.0728 -140.399374 
L 635.9972 -140.857053 
L 636.9216 -141.314731 
L 637.846 -141.772409 
L 638.7704 -142.230088 
L 639.6948 -142.687766 
L 640.6192 -143.145445 
L 641.5436 -143.603123 
L 642.468 -144.060801 
L 643.3924 -144.524784 
L 644.3168 -144.991469 
L 645.2412 -145.458153 
L 646.1656 -145.924838 
L 647.09 -146.391523 
L 648.0144 -146.858207 
L 648.9388 -147.324892 
L 649.8632 -147.791577 
L 650.7876 -148.258261 
L 651.712 -148.724946 
L 652.6364 -149.19163 
L 653.5608 -149.658315 
L 654.4852 -150.125 
L 655.4096 -150.591684 
L 656.334 -151.058369 
L 657.2584 -151.525053 
L 658.1828 -151.991738 
L 659.1072 -152.458423 
L 660.0316 -152.925107 
L 660.956 -153.400451 
L 661.8804 -153.910432 
L 662.8048 -154.420413 
L 663.7292 -154.930394 
L 664.6536 -155.440375 
L 665.578 -155.950356 
L 666.5024 -156.460336 
L 667.4268 -156.970317 
L 668.3512 -157.480298 
L 669.2756 -157.990279 
L 670.2 -158.50026 
L 670.2 -240.22365 
L 670.2 -240.22365 
L 669.2756 -239.367324 
L 668.3512 -238.510998 
L 667.4268 -237.654671 
L 666.5024 -236.798345 
L 665.578 -235.942019 
L 664.6536 -235.085693 
L 663.7292 -234.229366 
L 662.8048 -233.37304 
L 661.8804 -232.516714 
L 660.956 -231.660388 
L 660.0316 -230.804062 
L 659.1072 -229.947735 
L 658.1828 -229.091409 
L 657.2584 -228.235083 
L 656.334 -227.378757 
L 655.4096 -226.52243 
L 654.4852 -225.658426 
L 653.5608 -224.789304 
L 652.6364 -223.920181 
L 651.712 -223.051058 
L 650.7876 -222.181936 
L 649.8632 -221.345729 
L 648.9388 -220.586326 
L 648.0144 -219.826924 
L 647.09 -219.067521 
L 646.1656 -218.308118 
L 645.2412 -217.548715 
L 644.3168 -216.789312 
L 643.3924 -216.02991 
L 642.468 -215.270507 
L 641.5436 -214.511104 
L 640.6192 -213.751701 
L 639.6948 -212.996994 
L 638.7704 -212.246982 
L 637.846 -211.49697 
L 636.9216 -210.746957 
L 635.9972 -210.082188 
L 635.0728 -209.438729 
L 634.1484 -208.79527 
L 633.224 -208.15181 
L 632.2996 -207.508351 
L 631.3752 -206.864892 
L 630.4508 -206.221433 
L 629.5264 -205.577974 
L 628.602 -204.934515 
L 627.6776 -204.291056 
L 626.7532 -203.647597 
L 625.8288 -203.004138 
L 624.9044 -202.360679 
L 623.98 -201.463633 
L 623.0556 -200.397529 
L 622.1312 -199.331425 
L 621.2068 -198.265321 
L 620.2824 -197.199218 
L 619.358 -196.133114 
L 618.4336 -195.06701 
L 617.5092 -194.000906 
L 616.5848 -192.934802 
L 615.6604 -192.06899 
L 614.736 -191.503616 
L 613.8116 -190.938242 
L 612.8872 -190.372868 
L 611.9628 -189.807494 
L 611.0384 -189.242119 
L 610.114 -188.676745 
L 609.1896 -188.111371 
L 608.2652 -187.545997 
L 607.3408 -186.980623 
L 606.4164 -186.415248 
L 605.492 -185.849874 
L 604.5676 -185.2845 
L 603.6432 -184.863972 
L 602.7188 -184.443444 
L 601.7944 -184.022916 
L 600.87 -183.602388 
L 599.9456 -183.18186 
L 599.0212 -182.761332 
L 598.0968 -182.340804 
L 597.1724 -181.920277 
L 596.248 -181.499749 
L 595.3236 -181.079221 
L 594.3992 -180.658693 
L 593.4748 -180.238165 
L 592.5504 -179.817637 
L 591.626 -179.397109 
L 590.7016 -178.976581 
L 589.7772 -178.556053 
L 588.8528 -178.135525 
L 587.9284 -177.701392 
L 587.004 -177.144816 
L 586.0796 -176.58824 
L 585.1552 -176.031664 
L 584.2308 -175.475088 
L 583.3064 -174.918512 
L 582.382 -174.361936 
L 581.4576 -173.80536 
L 580.5332 -173.248785 
L 579.6088 -172.692209 
L 578.6844 -172.135633 
L 577.76 -171.579057 
L 576.8356 -171.022481 
L 575.9112 -170.465905 
L 574.9868 -169.909329 
L 574.0624 -169.352753 
L 573.138 -168.612184 
L 572.2136 -167.851172 
L 571.2892 -167.090159 
L 570.3648 -166.329147 
L 569.4404 -165.568135 
L 568.516 -164.807123 
L 567.5916 -164.04611 
L 566.6672 -163.285098 
L 565.7428 -162.524086 
L 564.8184 -161.763074 
L 563.894 -161.002061 
L 562.9696 -160.241049 
L 562.0452 -159.480037 
L 561.1208 -158.719025 
L 560.1964 -157.958012 
L 559.272 -157.197 
L 558.3476 -156.482775 
L 557.4232 -155.76855 
L 556.4988 -155.054325 
L 555.5744 -154.3401 
L 554.65 -153.625875 
L 553.7256 -152.91165 
L 552.8012 -152.197425 
L 551.8768 -151.4832 
L 550.9524 -150.768975 
L 550.028 -150.087175 
L 549.1036 -149.535075 
L 548.1792 -148.982974 
L 547.2548 -148.430874 
L 546.3304 -147.878774 
L 545.406 -147.326673 
L 544.4816 -146.774573 
L 543.5572 -146.222473 
L 542.6328 -145.670372 
L 541.7084 -145.118272 
L 540.784 -144.566172 
L 539.8596 -144.014072 
L 538.9352 -143.461971 
L 538.0108 -142.909871 
L 537.0864 -142.357771 
L 536.162 -141.80567 
L 535.2376 -141.25357 
L 534.3132 -140.713881 
L 533.3888 -140.175571 
L 532.4644 -139.637261 
L 531.54 -139.098951 
L 530.6156 -138.560641 
L 529.6912 -138.022331 
L 528.7668 -137.484021 
L 527.8424 -136.94571 
L 526.918 -136.4074 
L 525.9936 -135.86909 
L 525.0692 -135.33078 
L 524.1448 -134.79247 
L 523.2204 -134.25416 
L 522.296 -133.71585 
L 521.3716 -133.096717 
L 520.4472 -132.477584 
L 519.5228 -131.858451 
L 518.5984 -131.239318 
L 517.674 -130.620185 
L 516.7496 -130.001052 
L 515.8252 -129.381919 
L 514.9008 -128.762785 
L 513.9764 -128.143652 
L 513.052 -127.524519 
L 512.1276 -126.905386 
L 511.2032 -126.286253 
L 510.2788 -125.66712 
L 509.3544 -125.047987 
L 508.43 -124.428854 
L 507.5056 -123.809721 
L 506.5812 -123.190588 
L 505.6568 -122.571455 
L 504.7324 -121.878163 
L 503.808 -121.073634 
L 502.8836 -120.269105 
L 501.9592 -119.464575 
L 501.0348 -118.660046 
L 500.1104 -117.855517 
L 499.186 -117.050987 
L 498.2616 -116.246458 
L 497.3372 -115.441929 
L 496.4128 -114.637399 
L 495.4884 -113.83287 
L 494.564 -113.028341 
L 493.6396 -112.223812 
L 492.7152 -111.419282 
L 491.7908 -110.614753 
L 490.8664 -109.810224 
L 489.942 -109.005694 
L 489.0176 -108.201165 
L 488.0932 -107.396636 
L 487.1688 -106.592106 
L 486.2444 -105.787577 
L 485.32 -104.983048 
L 484.3956 -104.178518 
L 483.4712 -103.373989 
L 482.5468 -102.56946 
L 481.6224 -101.764931 
L 480.698 -101.029771 
L 479.7736 -100.456475 
L 478.8492 -99.88318 
L 477.9248 -99.309884 
L 477.0004 -98.736588 
L 476.076 -98.163292 
L 475.1516 -97.589996 
L 474.2272 -97.0167 
L 473.3028 -96.443404 
L 472.3784 -95.870109 
L 471.454 -95.296813 
L 470.5296 -94.723517 
L 469.6052 -94.150221 
L 468.6808 -93.576925 
L 467.7564 -93.003629 
L 466.832 -92.430333 
L 465.9076 -91.857038 
L 464.9832 -91.283742 
L 464.0588 -90.710446 
L 463.1344 -90.13715 
L 462.21 -89.563854 
L 461.2856 -88.990558 
L 460.3612 -88.417263 
L 459.4368 -87.843967 
L 458.5124 -87.270671 
L 457.588 -86.697375 
L 456.6636 -86.18645 
L 455.7392 -85.675525 
L 454.8148 -85.1646 
L 453.8904 -84.653675 
L 452.966 -84.14275 
L 452.0416 -83.631825 
L 451.1172 -83.1209 
L 450.1928 -82.609975 
L 449.2684 -82.09905 
L 448.344 -81.588125 
L 447.4196 -81.0772 
L 446.4952 -80.566275 
L 445.5708 -80.05535 
L 444.6464 -79.544425 
L 443.722 -79.0335 
L 442.7976 -78.522575 
L 441.8732 -78.01165 
L 440.9488 -77.500725 
L 440.0244 -76.9898 
L 439.1 -76.478875 
L 438.1756 -75.96795 
L 437.2512 -75.439244 
L 436.3268 -74.910538 
L 435.4024 -74.381832 
L 434.478 -73.853126 
L 433.5536 -73.324421 
L 432.6292 -72.795715 
L 431.7048 -72.267009 
L 430.7804 -71.738303 
L 429.856 -71.183712 
L 428.9316 -70.603237 
L 428.0072 -70.022762 
L 427.0828 -69.442287 
L 426.1584 -68.861812 
L 425.234 -68.281337 
L 424.3096 -67.757037 
L 423.3852 -67.288912 
L 422.4608 -66.820787 
L 421.5364 -66.352662 
L 420.612 -65.884537 
L 419.6876 -65.416412 
L 418.7632 -64.789125 
L 417.8388 -64.002675 
L 416.9144 -63.216225 
L 415.99 -62.429775 
L 415.0656 -61.643325 
L 414.1412 -60.856875 
L 413.2168 -60.070425 
L 412.2924 -59.283975 
L 411.368 -58.497525 
z
"/>
</defs>
<g clip-path="url(#pf4fa127443)">
<use href="#m7a9fd5055f" x="0" y="266" style="fill: #ffc0cb; fill-opacity: 0.5"/>
</g>
</g>
<g id="FillBetweenPolyCollection_4">
<defs>
<path id="mc55d0e50f7" d="M 420.612 -54.2844 
L 420.612 -44.50995 
L 421.5364 -44.917845 
L 422.4608 -45.32574 
L 423.3852 -45.733635 
L 424.3096 -46.14153 
L 425.234 -46.549425 
L 426.1584 -46.957319 
L 427.0828 -47.365214 
L 428.0072 -47.773109 
L 428.9316 -48.181004 
L 429.856 -48.588899 
L 430.7804 -48.996794 
L 431.7048 -49.404689 
L 432.6292 -49.812584 
L 433.5536 -50.220479 
L 434.478 -50.628374 
L 435.4024 -51.027913 
L 436.3268 -51.407955 
L 437.2512 -51.787997 
L 438.1756 -52.16804 
L 439.1 -52.548082 
L 440.0244 -52.928124 
L 440.9488 -53.308166 
L 441.8732 -53.688209 
L 442.7976 -54.068251 
L 443.722 -54.448293 
L 444.6464 -54.828336 
L 445.5708 -55.208378 
L 446.4952 -55.58842 
L 447.4196 -55.968462 
L 448.344 -56.348505 
L 449.2684 -56.728547 
L 450.1928 -57.108589 
L 451.1172 -57.488632 
L 452.0416 -57.868674 
L 452.966 -58.248716 
L 453.8904 -58.628758 
L 454.8148 -59.008801 
L 455.7392 -59.388843 
L 456.6636 -59.768885 
L 457.588 -60.148927 
L 458.5124 -60.52897 
L 459.4368 -60.909012 
L 460.3612 -61.289054 
L 461.2856 -61.669097 
L 462.21 -62.049139 
L 463.1344 -62.429181 
L 464.0588 -62.809223 
L 464.9832 -63.189266 
L 465.9076 -63.569308 
L 466.832 -63.94935 
L 467.7564 -64.329393 
L 468.6808 -64.709435 
L 469.6052 -65.089477 
L 470.5296 -65.469519 
L 471.454 -65.849562 
L 472.3784 -66.229604 
L 473.3028 -66.609646 
L 474.2272 -66.989689 
L 475.1516 -67.369731 
L 476.076 -67.749773 
L 477.0004 -68.129815 
L 477.9248 -68.509858 
L 478.8492 -68.8899 
L 479.7736 -69.262806 
L 480.698 -69.635713 
L 481.6224 -70.008619 
L 482.5468 -70.381526 
L 483.4712 -70.754432 
L 484.3956 -71.127338 
L 485.32 -71.500245 
L 486.2444 -71.873151 
L 487.1688 -72.246057 
L 488.0932 -72.618964 
L 489.0176 -72.99187 
L 489.942 -73.364777 
L 490.8664 -73.737683 
L 491.7908 -74.110589 
L 492.7152 -74.483496 
L 493.6396 -74.856402 
L 494.564 -75.229309 
L 495.4884 -75.602215 
L 496.4128 -75.975121 
L 497.3372 -76.348028 
L 498.2616 -76.720934 
L 499.186 -77.09384 
L 500.1104 -77.466747 
L 501.0348 -77.839653 
L 501.9592 -78.21256 
L 502.8836 -78.585466 
L 503.808 -78.958372 
L 504.7324 -79.331279 
L 505.6568 -79.704185 
L 506.5812 -80.077091 
L 507.5056 -80.449998 
L 508.43 -80.822904 
L 509.3544 -81.195811 
L 510.2788 -81.568717 
L 511.2032 -81.941623 
L 512.1276 -82.31453 
L 513.052 -82.687436 
L 513.9764 -83.060343 
L 514.9008 -83.433249 
L 515.8252 -83.806155 
L 516.7496 -84.179062 
L 517.674 -84.551968 
L 518.5984 -84.924874 
L 519.5228 -85.297781 
L 520.4472 -85.670687 
L 521.3716 -86.043594 
L 522.296 -86.4165 
L 522.296 -145.905825 
L 522.296 -145.905825 
L 521.3716 -145.046347 
L 520.4472 -144.18687 
L 519.5228 -143.327393 
L 518.5984 -142.467915 
L 517.674 -141.608437 
L 516.7496 -140.74896 
L 515.8252 -139.889482 
L 514.9008 -139.030005 
L 513.9764 -138.170527 
L 513.052 -137.31105 
L 512.1276 -136.445955 
L 511.2032 -135.58086 
L 510.2788 -134.715765 
L 509.3544 -133.85067 
L 508.43 -132.985575 
L 507.5056 -132.12048 
L 506.5812 -131.255385 
L 505.6568 -130.39029 
L 504.7324 -129.525195 
L 503.808 -128.6601 
L 502.8836 -127.80624 
L 501.9592 -126.95238 
L 501.0348 -126.09852 
L 500.1104 -125.24466 
L 499.186 -124.3908 
L 498.2616 -123.53694 
L 497.3372 -122.68308 
L 496.4128 -121.82922 
L 495.4884 -120.97536 
L 494.564 -120.1215 
L 493.6396 -119.24517 
L 492.7152 -118.36884 
L 491.7908 -117.49251 
L 490.8664 -116.61618 
L 489.942 -115.73985 
L 489.0176 -114.86352 
L 488.0932 -113.98719 
L 487.1688 -113.11086 
L 486.2444 -112.23453 
L 485.32 -111.3582 
L 484.3956 -110.50434 
L 483.4712 -109.65048 
L 482.5468 -108.79662 
L 481.6224 -107.94276 
L 480.698 -107.0889 
L 479.7736 -106.23504 
L 478.8492 -105.38118 
L 477.9248 -104.52732 
L 477.0004 -103.67346 
L 476.076 -102.8196 
L 475.1516 -101.96574 
L 474.2272 -101.11188 
L 473.3028 -100.25802 
L 472.3784 -99.40416 
L 471.454 -98.5503 
L 470.5296 -97.69644 
L 469.6052 -96.84258 
L 468.6808 -95.98872 
L 467.7564 -95.13486 
L 466.832 -94.281 
L 465.9076 -93.415905 
L 464.9832 -92.55081 
L 464.0588 -91.685715 
L 463.1344 -90.82062 
L 462.21 -89.955525 
L 461.2856 -89.09043 
L 460.3612 -88.225335 
L 459.4368 -87.36024 
L 458.5124 -86.495145 
L 457.588 -85.63005 
L 456.6636 -84.75372 
L 455.7392 -83.87739 
L 454.8148 -83.00106 
L 453.8904 -82.12473 
L 452.966 -81.2484 
L 452.0416 -80.37207 
L 451.1172 -79.49574 
L 450.1928 -78.61941 
L 449.2684 -77.74308 
L 448.344 -76.86675 
L 447.4196 -76.0803 
L 446.4952 -75.29385 
L 445.5708 -74.5074 
L 444.6464 -73.72095 
L 443.722 -72.9345 
L 442.7976 -72.14805 
L 441.8732 -71.3616 
L 440.9488 -70.57515 
L 440.0244 -69.7887 
L 439.1 -69.00225 
L 438.1756 -68.271975 
L 437.2512 -67.5417 
L 436.3268 -66.811425 
L 435.4024 -66.08115 
L 434.478 -65.350875 
L 433.5536 -64.6206 
L 432.6292 -63.890325 
L 431.7048 -63.16005 
L 430.7804 -62.429775 
L 429.856 -61.6995 
L 428.9316 -60.95799 
L 428.0072 -60.21648 
L 427.0828 -59.47497 
L 426.1584 -58.73346 
L 425.234 -57.99195 
L 424.3096 -57.25044 
L 423.3852 -56.50893 
L 422.4608 -55.76742 
L 421.5364 -55.02591 
L 420.612 -54.2844 
z
"/>
</defs>
<g clip-path="url(#pf4fa127443)">
<use href="#mc55d0e50f7" x="0" y="266" style="fill: #add8e6; fill-opacity: 0.5"/>
</g>
</g>
<g id="matplotlib.axis_3">
<g id="xtick_7">
<g id="line2d_50">
<g>
<use href="#m1124e9da6d" x="439.1" y="237.5" style="stroke: #000000; stroke-width: 0.6584"/>
</g>
</g>
<g id="text_18">
<text style="font-size: 8.748px" x="432.73 437.88 440.60" y="249.514514">1.5</text>
</g>
</g>
<g id="xtick_8">
<g id="line2d_51">
<g>
<use href="#m1124e9da6d" x="485.32" y="237.5" style="stroke: #000000; stroke-width: 0.6584"/>
</g>
</g>
<g id="text_19">
<text style="font-size: 8.748px" x="478.95 484.10 486.82" y="249.514514">2.0</text>
</g>
</g>
<g id="xtick_9">
<g id="line2d_52">
<g>
<use href="#m1124e9da6d" x="531.54" y="237.5" style="stroke: #000000; stroke-width: 0.6584"/>
</g>
</g>
<g id="text_20">
<text style="font-size: 8.748px" x="525.17 530.32 533.04" y="249.514514">2.5</text>
</g>
</g>
<g id="xtick_10">
<g id="line2d_53">
<g>
<use href="#m1124e9da6d" x="577.76" y="237.5" style="stroke: #000000; stroke-width: 0.6584"/>
</g>
</g>
<g id="text_21">
<text style="font-size: 8.748px" x="571.39 576.54 579.26" y="249.514514">3.0</text>
</g>
</g>
<g id="xtick_11">
<g id="line2d_54">
<g>
<use href="#m1124e9da6d" x="623.98" y="237.5" style="stroke: #000000; stroke-width: 0.6584"/>
</g>
</g>
<g id="text_22">
<text style="font-size: 8.748px" x="617.61 622.76 625.48" y="249.514514">3.5</text>
</g>
</g>
<g id="xtick_12">
<g id="line2d_55">
<g>
<use href="#m1124e9da6d" x="670.2" y="237.5" style="stroke: #000000; stroke-width: 0.6584"/>
</g>
</g>
<g id="text_23">
<text style="font-size: 8.748px" x="663.83 668.98 671.70" y="249.514514">4.0</text>
</g>
</g>
<g id="text_24">
<g transform="translate(481.30409 263.505257)">
<text>
<tspan x="-0.12" y="-0.703125" style="font-size: 11.752px">G</tspan>
<tspan x="9.20" y="-0.703125" style="font-size: 11.752px">l</tspan>
<tspan x="12.36" y="-0.703125" style="font-size: 11.752px">o</tspan>
<tspan x="19.52" y="-0.703125" style="font-size: 11.752px">b</tspan>
<tspan x="26.70" y="-0.703125" style="font-size: 11.752px">a</tspan>
<tspan x="33.78" y="-0.703125" style="font-size: 11.752px">l</tspan>
<tspan x="36.88" y="-0.703125" style="font-size: 11.752px"> </tspan>
<tspan x="40.48" y="-0.703125" style="font-size: 11.752px">W</tspan>
<tspan x="51.97" y="-0.703125" style="font-size: 11.752px">a</tspan>
<tspan x="59.16" y="-0.703125" style="font-size: 11.752px">r</tspan>
<tspan x="64.19" y="-0.703125" style="font-size: 11.752px">m</tspan>
<tspan x="74.98" y="-0.703125" style="font-size: 11.752px">i</tspan>
<tspan x="78.26" y="-0.703125" style="font-size: 11.752px">n</tspan>
<tspan x="85.55" y="-0.703125" style="font-size: 11.752px">g</tspan>
<tspan x="92.67" y="-0.703125" style="font-size: 11.752px"> </tspan>
<tspan x="96.41" y="-0.703125" style="font-size: 11.752px">(</tspan>
<tspan x="105.75" y="-0.703125" style="font-size: 11.752px">C</tspan>
<tspan x="114.30" y="-0.703125" style="font-size: 11.752px">)</tspan>
<tspan x="100.93" y="-5.296875" style="font-size: 8.227px; font-style: italic">o</tspan>
</text>
</g>
</g>
</g>
<g id="matplotlib.axis_4">
<g id="ytick_7">
<g id="line2d_56">
<g>
<use href="#m9863b41d79" x="398.5" y="223.4" style="stroke: #000000; stroke-width: 0.6584"/>
</g>
</g>
<g id="text_25">
<text style="font-size: 8.748px" x="387.68" y="226.526757">0</text>
</g>
</g>
<g id="ytick_8">
<g id="line2d_57">
<g>
<use href="#m9863b41d79" x="398.5" y="195.3125" style="stroke: #000000; stroke-width: 0.6584"/>
</g>
</g>
<g id="text_26">
<text style="font-size: 8.748px" x="377.18 382.43 387.68" y="198.439257">250</text>
</g>
</g>
<g id="ytick_9">
<g id="line2d_58">
<g>
<use href="#m9863b41d79" x="398.5" y="167.225" style="stroke: #000000; stroke-width: 0.6584"/>
</g>
</g>
<g id="text_27">
<text style="font-size: 8.748px" x="377.18 382.43 387.68" y="170.351757">500</text>
</g>
</g>
<g id="ytick_10">
<g id="line2d_59">
<g>
<use href="#m9863b41d79" x="398.5" y="139.1375" style="stroke: #000000; stroke-width: 0.6584"/>
</g>
</g>
<g id="text_28">
<text style="font-size: 8.748px" x="377.18 382.43 387.68" y="142.264257">750</text>
</g>
</g>
<g id="ytick_11">
<g id="line2d_60">
<g>
<use href="#m9863b41d79" x="398.5" y="111.05" style="stroke: #000000; stroke-width: 0.6584"/>
</g>
</g>
<g id="text_29">
<text style="font-size: 8.748px" x="371.94 377.18 382.43 387.68" y="114.176757">1000</text>
</g>
</g>
<g id="ytick_12">
<g id="line2d_61">
<g>
<use href="#m9863b41d79" x="398.5" y="82.9625" style="stroke: #000000; stroke-width: 0.6584"/>
</g>
</g>
<g id="text_30">
<text style="font-size: 8.748px" x="371.94 377.18 382.43 387.68" y="86.089257">1250</text>
</g>
</g>
<g id="ytick_13">
<g id="line2d_62">
<g>
<use href="#m9863b41d79" x="398.5" y="54.875" style="stroke: #000000; stroke-width: 0.6584"/>
</g>
</g>
<g id="text_31">
<text style="font-size: 8.748px" x="371.94 377.18 382.43 387.68" y="58.001757">1500</text>
</g>
</g>
<g id="ytick_14">
<g id="line2d_63">
<g>
<use href="#m9863b41d79" x="398.5" y="26.7875" style="stroke: #000000; stroke-width: 0.6584"/>
</g>
</g>
<g id="text_32">
<text style="font-size: 8.748px" x="371.94 377.18 382.43 387.68" y="29.914257">1750</text>
</g>
</g>
<g id="text_33">
<text style="font-size: 11.752px" x="272.82 280.83 288.34 299.09 306.17 309.45 316.66 319.94 327.23 334.34 337.58 346.09 353.29 357.99 365.16 372.32 379.43 382.91 391.15 398.45 405.75 412.94 420.36 424.45 428.19 431.94 439.71 446.40 454.94" y="126.5" transform="rotate(-90 366.105434 126.5)">Remaining Carbon Budget (PgC)</text>
</g>
</g>
<g id="patch_12">
<path d="M 398.5 237.5 
L 398.5 15.5 
" style="fill: none; stroke: #000000; stroke-width: 0.6584; stroke-linejoin: miter; stroke-linecap: square"/>
</g>
<g id="patch_13">
<path d="M 682.9 237.5 
L 682.9 15.5 
" style="fill: none; stroke: #000000; stroke-width: 0.6584; stroke-linejoin: miter; stroke-linecap: square"/>
</g>
<g id="patch_14">
<path d="M 398.5 237.5 
L 682.9 237.5 
" style="fill: none; stroke: #000000; stroke-width: 0.6584; stroke-linejoin: miter; stroke-linecap: square"/>
</g>
<g id="patch_15">
<path d="M 398.5 15.5 
L 682.9 15.5 
" style="fill: none; stroke: #000000; stroke-width: 0.6584; stroke-linejoin: miter; stroke-linecap: square"/>
</g>
<g id="line2d_64">
<defs>
<path id="mc7de2178a9" d="M 0 2.469 
C 0.654786 2.469 1.282843 2.208851 1.745847 1.745847 
C 2.208851 1.282843 2.469 0.654786 2.469 0 
C 2.469 -0.654786 2.208851 -1.282843 1.745847 -1.745847 
C 1.282843 -2.208851 0.654786 -2.469 0 -2.469 
C -0.654786 -2.469 -1.282843 -2.208851 -1.745847 -1.745847 
C -2.208851 -1.282843 -2.469 -0.654786 -2.469 0 
C -2.469 0.654786 -2.208851 1.282843 -1.745847 1.745847 
C -1.282843 2.208851 -0.654786 2.469 0 2.469 
z
" style="stroke: #ff0000; stroke-width: 0.823"/>
</defs>
<g clip-path="url(#pf4fa127443)">
<use href="#mc7de2178a9" x="411.368" y="217.60274" style="fill: #ff0000; stroke: #ff0000; stroke-width: 0.823"/>
<use href="#mc7de2178a9" x="420.612" y="211.60325" style="fill: #ff0000; stroke: #ff0000; stroke-width: 0.823"/>
<use href="#mc7de2178a9" x="429.856" y="206.603675" style="fill: #ff0000; stroke: #ff0000; stroke-width: 0.823"/>
<use href="#mc7de2178a9" x="439.1" y="202.199555" style="fill: #ff0000; stroke: #ff0000; stroke-width: 0.823"/>
<use href="#mc7de2178a9" x="448.344" y="197.89655" style="fill: #ff0000; stroke: #ff0000; stroke-width: 0.823"/>
<use href="#mc7de2178a9" x="457.588" y="192.896975" style="fill: #ff0000; stroke: #ff0000; stroke-width: 0.823"/>
<use href="#mc7de2178a9" x="466.832" y="186.79637" style="fill: #ff0000; stroke: #ff0000; stroke-width: 0.823"/>
<use href="#mc7de2178a9" x="476.076" y="180.897995" style="fill: #ff0000; stroke: #ff0000; stroke-width: 0.823"/>
<use href="#mc7de2178a9" x="485.32" y="175.505195" style="fill: #ff0000; stroke: #ff0000; stroke-width: 0.823"/>
<use href="#mc7de2178a9" x="494.564" y="170.79773" style="fill: #ff0000; stroke: #ff0000; stroke-width: 0.823"/>
<use href="#mc7de2178a9" x="503.808" y="165.303815" style="fill: #ff0000; stroke: #ff0000; stroke-width: 0.823"/>
<use href="#mc7de2178a9" x="513.052" y="161.798495" style="fill: #ff0000; stroke: #ff0000; stroke-width: 0.823"/>
<use href="#mc7de2178a9" x="522.296" y="156.203465" style="fill: #ff0000; stroke: #ff0000; stroke-width: 0.823"/>
<use href="#mc7de2178a9" x="531.54" y="150.496085" style="fill: #ff0000; stroke: #ff0000; stroke-width: 0.823"/>
<use href="#mc7de2178a9" x="540.784" y="145.29428" style="fill: #ff0000; stroke: #ff0000; stroke-width: 0.823"/>
<use href="#mc7de2178a9" x="550.028" y="140.80028" style="fill: #ff0000; stroke: #ff0000; stroke-width: 0.823"/>
<use href="#mc7de2178a9" x="559.272" y="135.49736" style="fill: #ff0000; stroke: #ff0000; stroke-width: 0.823"/>
<use href="#mc7de2178a9" x="568.516" y="128.19461" style="fill: #ff0000; stroke: #ff0000; stroke-width: 0.823"/>
<use href="#mc7de2178a9" x="577.76" y="122.790575" style="fill: #ff0000; stroke: #ff0000; stroke-width: 0.823"/>
<use href="#mc7de2178a9" x="587.004" y="117.285425" style="fill: #ff0000; stroke: #ff0000; stroke-width: 0.823"/>
<use href="#mc7de2178a9" x="596.248" y="115.038425" style="fill: #ff0000; stroke: #ff0000; stroke-width: 0.823"/>
<use href="#mc7de2178a9" x="605.492" y="110.6006" style="fill: #ff0000; stroke: #ff0000; stroke-width: 0.823"/>
<use href="#mc7de2178a9" x="614.736" y="103.99442" style="fill: #ff0000; stroke: #ff0000; stroke-width: 0.823"/>
<use href="#mc7de2178a9" x="623.98" y="97.062425" style="fill: #ff0000; stroke: #ff0000; stroke-width: 0.823"/>
<use href="#mc7de2178a9" x="633.224" y="92.343725" style="fill: #ff0000; stroke: #ff0000; stroke-width: 0.823"/>
<use href="#mc7de2178a9" x="642.468" y="87.737375" style="fill: #ff0000; stroke: #ff0000; stroke-width: 0.823"/>
<use href="#mc7de2178a9" x="651.712" y="82.119875" style="fill: #ff0000; stroke: #ff0000; stroke-width: 0.823"/>
<use href="#mc7de2178a9" x="660.956" y="75.21035" style="fill: #ff0000; stroke: #ff0000; stroke-width: 0.823"/>
<use href="#mc7de2178a9" x="670.2" y="67.30091" style="fill: #ff0000; stroke: #ff0000; stroke-width: 0.823"/>
</g>
</g>
<g id="line2d_65">
<defs>
<path id="m2dbf567141" d="M 0 1.3991 
C 0.371046 1.3991 0.726944 1.251682 0.989313 0.989313 
C 1.251682 0.726944 1.3991 0.371046 1.3991 0 
C 1.3991 -0.371046 1.251682 -0.726944 0.989313 -0.989313 
C 0.726944 -1.251682 0.371046 -1.3991 0 -1.3991 
C -0.371046 -1.3991 -0.726944 -1.251682 -0.989313 -0.989313 
C -1.251682 -0.726944 -1.3991 -0.371046 -1.3991 0 
C -1.3991 0.371046 -1.251682 0.726944 -0.989313 0.989313 
C -0.726944 1.251682 -0.371046 1.3991 0 1.3991 
z
" style="stroke: #0000ff; stroke-width: 0.823"/>
</defs>
<g clip-path="url(#pf4fa127443)">
<use href="#m2dbf567141" x="420.612" y="218.79365" style="fill: #0000ff; stroke: #0000ff; stroke-width: 0.823"/>
<use href="#m2dbf567141" x="429.856" y="213.097505" style="fill: #0000ff; stroke: #0000ff; stroke-width: 0.823"/>
<use href="#m2dbf567141" x="439.1" y="207.502475" style="fill: #0000ff; stroke: #0000ff; stroke-width: 0.823"/>
<use href="#m2dbf567141" x="448.344" y="202.99724" style="fill: #0000ff; stroke: #0000ff; stroke-width: 0.823"/>
<use href="#m2dbf567141" x="457.588" y="197.40221" style="fill: #0000ff; stroke: #0000ff; stroke-width: 0.823"/>
<use href="#m2dbf567141" x="466.832" y="191.795945" style="fill: #0000ff; stroke: #0000ff; stroke-width: 0.823"/>
<use href="#m2dbf567141" x="476.076" y="187.20083" style="fill: #0000ff; stroke: #0000ff; stroke-width: 0.823"/>
<use href="#m2dbf567141" x="485.32" y="181.6058" style="fill: #0000ff; stroke: #0000ff; stroke-width: 0.823"/>
<use href="#m2dbf567141" x="494.564" y="175.9883" style="fill: #0000ff; stroke: #0000ff; stroke-width: 0.823"/>
<use href="#m2dbf567141" x="503.808" y="171.4943" style="fill: #0000ff; stroke: #0000ff; stroke-width: 0.823"/>
<use href="#m2dbf567141" x="513.052" y="165.98915" style="fill: #0000ff; stroke: #0000ff; stroke-width: 0.823"/>
<use href="#m2dbf567141" x="522.296" y="161.6075" style="fill: #0000ff; stroke: #0000ff; stroke-width: 0.823"/>
</g>
</g>
<g id="text_34">
<text style="font-size: 11.752px" x="398.66 403.24 410.44 414.84 418.05 426.06 433.57 444.32 451.41 454.69 461.89 465.17 472.46 479.58 482.81 491.32 498.52 503.22 510.39 517.55 524.66 528.15 536.39 543.68 550.98 558.17 565.60 569.68 573.53 577.60 581.92 589.41 600.10 603.95 611.27 618.58 625.90 633.02 636.73 643.89 651.27 660.47 667.67 672.12 679.09" y="10.562">(b) Remaining Carbon Budget from 2020 onwards</text>
</g>
<g id="legend_2">
<g id="patch_16">
<path d="M 404.261 70.404388 
L 566.555314 70.404388 
Q 568.201314 70.404388 568.201314 68.758388 
L 568.201314 21.261 
Q 568.201314 19.615 566.555314 19.615 
L 404.261 19.615 
Q 402.615 19.615 402.615 21.261 
L 402.615 68.758388 
Q 402.615 70.404388 404.261 70.404388 
z
" style="fill: #ffffff; opacity: 0.8; stroke: #cccccc; stroke-width: 0.823; stroke-linejoin: miter"/>
</g>
<g id="line2d_66">
<g>
<use href="#mc7de2178a9" x="414.137" y="26.280014" style="fill: #ff0000; stroke: #ff0000; stroke-width: 0.823"/>
</g>
</g>
<g id="text_35">
<text style="font-size: 8.642px" x="428.68 434.58 442.33 447.53 450.76 455.91 461.07 466.50 469.43 471.70 477.82 482.96 487.97 492.69 495.77 499.03 504.14 506.46 511.90 514.82 517.76 525.51 530.66 535.87 538.10 543.24" y="29.160514">Emergent Constraint median</text>
</g>
<g id="line2d_67">
<defs>
<path id="mede5262fba" d="M 0 1.2345 
C 0.327393 1.2345 0.641421 1.104425 0.872923 0.872923 
C 1.104425 0.641421 1.2345 0.327393 1.2345 0 
C 1.2345 -0.327393 1.104425 -0.641421 0.872923 -0.872923 
C 0.641421 -1.104425 0.327393 -1.2345 0 -1.2345 
C -0.327393 -1.2345 -0.641421 -1.104425 -0.872923 -0.872923 
C -1.104425 -0.641421 -1.2345 -0.327393 -1.2345 0 
C -1.2345 0.327393 -1.104425 0.641421 -0.872923 0.872923 
C -0.641421 1.104425 -0.327393 1.2345 0 1.2345 
z
" style="stroke: #0000ff; stroke-width: 0.823"/>
</defs>
<g>
<use href="#mede5262fba" x="414.137" y="38.360111" style="fill: #0000ff; stroke: #0000ff; stroke-width: 0.823"/>
</g>
</g>
<g id="text_36">
<text style="font-size: 8.642px" x="428.97 430.99 436.12 441.88 447.99 450.44 455.89 462.10 467.24 470.17 477.92 483.08 488.28 490.52 495.66" y="41.240611">IPCC AR6 median</text>
</g>
<g id="patch_17">
<path d="M 405.907 53.320708 
L 422.367 53.320708 
L 422.367 47.559708 
L 405.907 47.559708 
z
" style="fill: #ffc0cb; opacity: 0.5"/>
</g>
<g id="text_37">
<text style="font-size: 8.642px" x="428.68 434.58 442.33 447.53 450.76 455.91 461.07 466.50 469.43 471.70 477.82 482.96 487.97 492.69 495.77 499.03 504.14 506.46 511.90 514.82 517.52 519.81 522.15 526.58 531.71 534.10 538.81 541.58 544.84 549.98 555.21 560.37" y="53.320708">Emergent Constraint likely range</text>
</g>
<g id="patch_18">
<path d="M 405.907 65.400805 
L 422.367 65.400805 
L 422.367 59.639805 
L 405.907 59.639805 
z
" style="fill: #add8e6; opacity: 0.5"/>
</g>
<g id="text_38">
<text style="font-size: 8.642px" x="428.97 430.99 436.12 441.88 447.99 450.44 455.89 462.10 467.24 469.94 472.23 474.56 479.00 484.12 486.51 491.22 493.99 497.25 502.39 507.63 512.78" y="65.400805">IPCC AR6 likely range</text>
</g>
</g>
</g>
</g>
<defs>
<clipPath id="p31837b4e38">
<rect x="43" y="15.5" width="284.4" height="222"/>
</clipPath>
<clipPath id="pf4fa127443">
<rect x="398.5" y="15.5" width="284.4" height="222"/>
</clipPath>
</defs>
</svg>

</body></html>
